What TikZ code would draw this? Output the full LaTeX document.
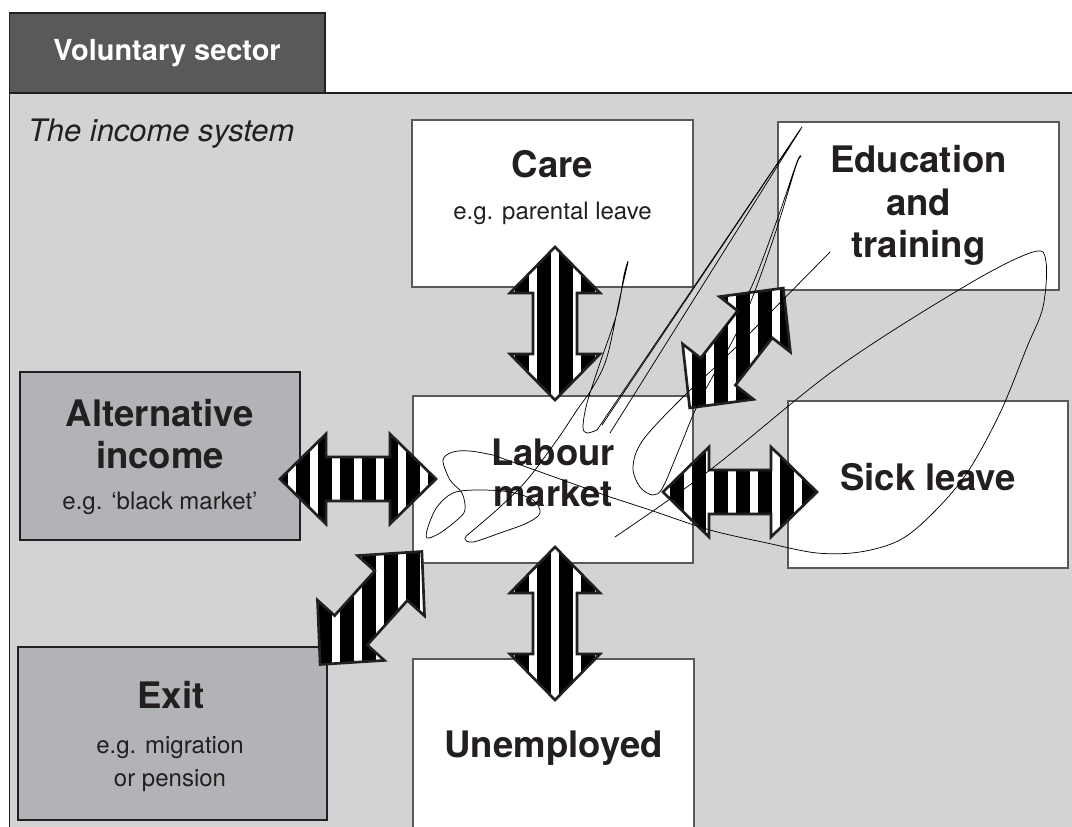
\documentclass[tikz,border=0pt]{standalone}
\usepackage{fontspec}
\setmainfont{TeX Gyre Heros}
\usetikzlibrary{fit}
\definecolor{ink}{HTML}{231F20}
\definecolor{tabgray}{HTML}{58595B}
\definecolor{panelgray}{HTML}{D1D3D4}
\definecolor{boxgray}{HTML}{B1B3B6}
\definecolor{edgegray}{HTML}{58595B}
\tikzset{
  every node/.style={inner sep=0pt, outer sep=0pt},
  whitebox/.style={draw=edgegray, line width=1.1pt, fill=white, inner sep=0pt},
  darkbox/.style={draw=ink, line width=1.1pt, fill=boxgray, inner sep=0pt},
  bigtext/.style={font=\fontsize{27.4}{32}\selectfont\bfseries, text=ink, anchor=base},
  smalltext/.style={font=\fontsize{18}{22}\selectfont, text=ink, anchor=base},
  arrowline/.style={draw=ink, line width=2pt, line join=miter},
  scribble/.style={draw=black, line width=0.55pt, line join=round, line cap=round},
}
\newcommand\arrowpath[1]{(-#1,0) -- (-#1+46,45) -- (-#1+46,22) -- (#1-46,22) -- (#1-46,45) -- (#1,0) -- (#1-46,-45) -- (#1-46,-22) -- (-#1+46,-22) -- (-#1+46,-45) -- cycle}
\newcommand\stripearrow[5]{%
  \begin{scope}
    \clip[shift={(#1,#2)}, rotate=#3] \arrowpath{#4};
    \fill[black] (#1-110,#2-110) rectangle (#1+110,#2+110);
    \foreach \k in {-6,...,6} {\fill[white] ({#1+#5+22*\k-4},#2-110) rectangle ++(8,220);}
  \end{scope}
  \draw[arrowline, shift={(#1,#2)}, rotate=#3] \arrowpath{#4};
}
\begin{document}
\begin{tikzpicture}[x=0.75pt, y=-0.75pt]
\useasboundingbox (0,0) rectangle (1072,827);
\fill[white] (0,0) rectangle (1072,827);
% panel
\fill[panelgray] (9.5,93) rectangle (1072,827);
\draw[ink, line width=1.3pt] (9.5,827) -- (9.5,93) -- (1072,93);
% tab
\node[draw=ink, line width=1.3pt, fill=tabgray, fit={(9.5,13) (325,93)}] (tab) {};
\node[anchor=base, font=\fontsize{21.7}{26}\selectfont\bfseries, text=white] (tablabel) at (167,61) {Voluntary sector};
\node[anchor=base west, font=\fontsize{23.2}{28}\selectfont\itshape, text=ink] (system) at (28,142) {The income system};
% boxes
\node[whitebox, fit={(412,120) (693,287)}] (care) {};
\node[whitebox, fit={(778,122) (1059,290)}] (edu) {};
\node[darkbox, fit={(20,372) (300,540)}] (alt) {};
\node[whitebox, fit={(413,396) (693,563)}] (labour) {};
\node[whitebox, fit={(788,401) (1068,568)}] (sick) {};
\node[darkbox, fit={(18,647) (327,820)}] (exit) {};
\node[whitebox, fit={(413,659) (694,840)}] (unemp) {};
% texts
\node[bigtext] (careT) at (552.5,178) {Care};
\node[smalltext] (careS) at (552.5,220) {e.g. parental leave};
\node[bigtext] (eduA) at (918.5,173) {Education};
\node[bigtext] (eduB) at (918.5,216) {and};
\node[bigtext] (eduC) at (918.5,258) {training};
\node[bigtext] (altA) at (160,427) {Alternative};
\node[bigtext] (altB) at (160,469) {income};
\node[smalltext] (altS) at (160,509) {e.g. ‘black market’};
\node[bigtext] (labA) at (553,465) {Labour};
\node[bigtext] (labB) at (553,507) {market};
\node[bigtext] (sickT) at (928,490) {Sick leave};
\node[bigtext] (exitT) at (171,708) {Exit};
\node[smalltext] (exitA) at (170,753) {e.g. migration};
\node[smalltext] (exitB) at (170,786) {or pension};
\node[bigtext] (unempT) at (553.5,757) {Unemployed};
% striped double arrows
\stripearrow{555}{323.5}{90}{76.5}{0}
\stripearrow{358}{479}{0}{78}{0}
\stripearrow{740}{492}{0}{77}{-8.5}
\stripearrow{555}{623.5}{90}{76.5}{0}
\stripearrow{736.5}{348}{52}{76}{-5}
\stripearrow{371}{608}{48}{76}{9}
% scribbles
\draw[scribble] plot[smooth, tension=0.55] coordinates {(615,537) (710,470) (837,368) (967,285) (1033,252) (1046,262) (1043,307) (1027,347) (1000,413) (967,473) (933,513) (900,540) (860,552) (817,553) (767,543) (710,530) (650,510) (610,497)}
  -- (493,455)
  plot[smooth, tension=0.55] coordinates {(493,455) (470,451) (453,452) (443,460) (450,480) (462,493) (465,510) (457,520) (440,533) (427,538) (428,527) (437,507) (453,493) (477,490) (510,492) (533,500) (540,513) (527,523) (500,533) (473,542) (465,538) (477,527) (500,507) (527,480) (557,440) (577,410) (593,387) (607,357) (620,297) (628,262) (624,275) (617,313) (600,363) (587,403) (583,427) (587,433) (597,430)}
  -- (802,127) -- (610,433);
\draw[scribble] (602,425) -- (800,130);
\draw[scribble] plot[smooth, tension=0.55] coordinates {(830,252) (733,350) (683,397) (643,440) (633,467) (640,487) (653,495) (663,487) (680,447) (700,400) (743,320) (773,240) (796,166) (801,157) (797,162) (777,220) (750,290) (723,330)};
\end{tikzpicture}
\end{document}
